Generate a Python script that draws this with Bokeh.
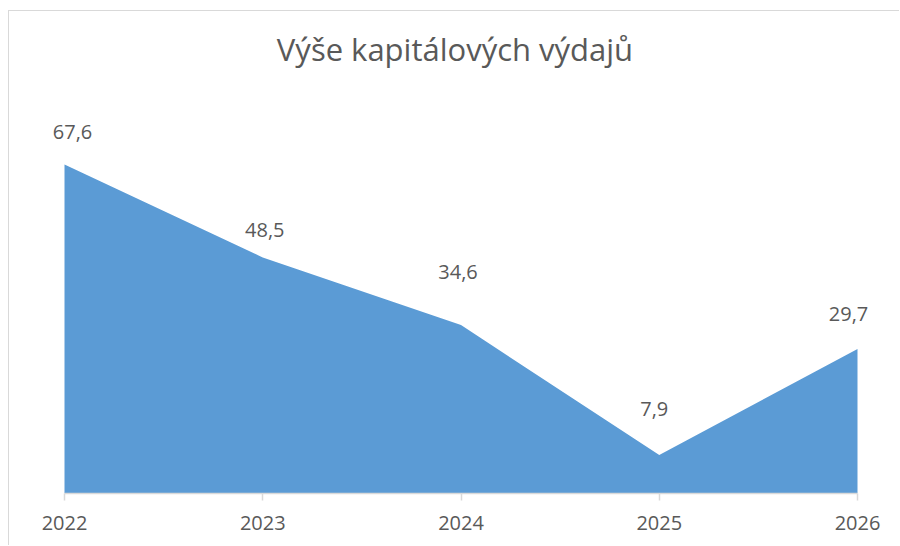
from bokeh.plotting import figure
from bokeh.models import Range1d, FixedTicker, ColumnDataSource
from bokeh.core.properties import value
from bokeh.embed import file_html
from bokeh.resources import INLINE

# data
years = [2022, 2023, 2024, 2025, 2026]
values = [67.6, 48.5, 34.6, 7.9, 29.7]
labels = ["67,6", "48,5", "34,6", "7,9", "29,7"]
title_text = "Výše kapitálových výdajů"

# label placement (style, screen px; negative = up)
label_dx = [8, 2, -3, -5, -9]
label_dy = [-32, -27, -53, -46, -35]

TEXT = "#595959"
FILL = "#5B9BD5"
LINE = "#D9D9D9"
FONT = "Open Sans"

# frame spans the full width; 2022 at 55px and 2026 at 848px from the left edge
W, H = 891, 535
TOP, BOTTOM = 60, 53
px_per_year = 793 / 4
x_lo = years[0] - 55 / px_per_year
x_hi = years[-1] + (W - 848) / px_per_year
px_per_unit = 389.4 / 80          # 0..80 axis over 389.4 px
y_hi = (H - TOP - BOTTOM) / px_per_unit

p = figure(width=W, height=H, output_backend="svg", toolbar_location=None,
           x_range=Range1d(x_lo, x_hi), y_range=Range1d(0, y_hi), y_axis_location=None,
           min_border_left=0, min_border_right=0, min_border_top=TOP, min_border_bottom=BOTTOM)
p.styles = {"margin-left": "8px", "margin-top": "10px",
            "border-left": "1px solid #D9D9D9", "border-top": "1px solid #D9D9D9"}

p.title.text = title_text
p.title.align = "center"
p.title.text_font = FONT
p.title.text_font_size = "31px"
p.title.text_font_style = "normal"
p.title.text_color = TEXT
p.title.standoff = 4

p.varea(x=years, y1=[0] * len(years), y2=values, fill_color=FILL)

src = ColumnDataSource(dict(x=years, y=values, t=labels, dx=label_dx, dy=label_dy))
p.text(x="x", y="y", text="t", x_offset="dx", y_offset="dy", source=src,
       text_align="center", text_baseline="middle", text_font=value(FONT),
       text_font_size="20px", text_color=TEXT)

p.xgrid.visible = False
p.ygrid.visible = False
p.outline_line_color = None

ax = p.xaxis[0]
ax.bounds = (years[0], years[-1])
ax.ticker = FixedTicker(ticks=years)
ax.formatter.use_scientific = False
ax.axis_line_color = LINE
ax.axis_line_width = 1.5
ax.major_tick_line_color = LINE
ax.major_tick_line_width = 1.5
ax.major_tick_in = 0
ax.major_tick_out = 7
ax.minor_tick_line_color = None
ax.major_label_text_font = FONT
ax.major_label_text_font_size = "20px"
ax.major_label_text_color = TEXT
ax.major_label_standoff = 15

open("out.html", "w").write(file_html(p, INLINE))
